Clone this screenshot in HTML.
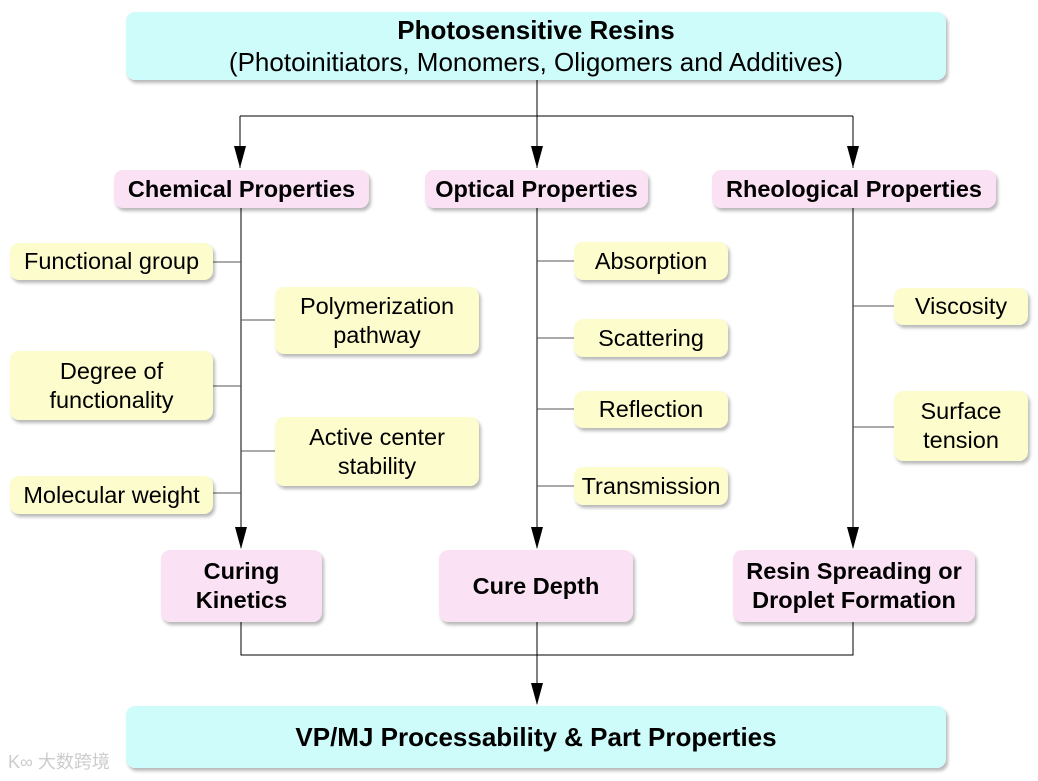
<!DOCTYPE html>
<html><head><style>
body{margin:0;width:1038px;height:781px;background:#fff;position:relative;overflow:hidden;font-family:"Liberation Sans",Arial,sans-serif;}
.b{position:absolute;box-sizing:border-box;display:flex;align-items:center;justify-content:center;text-align:center;border-radius:9px;box-shadow:2px 3px 3px rgba(0,0,0,0.28);color:#000;line-height:29px;white-space:nowrap;}
.c{background:#cdfcfa;}
.p{background:#fbe1f4;font-weight:bold;font-size:23.5px;}
.y{background:#fdfccd;font-size:23.5px;}
svg{position:absolute;left:0;top:0;}
</style></head><body>
<svg width="1038" height="781">
<g stroke="#000" stroke-width="1" fill="none">
<line x1="537" y1="80" x2="537" y2="116"/>
<line x1="240" y1="116" x2="853" y2="116"/>
<path d="M240,116 V168 M537,116 V168 M853,116 V168"/>
<path d="M241,208 V548 M537,208 V548 M853,208 V548"/>
<path d="M241,622 V655 H853 V622 M537,622 V704"/>
</g>
<g fill="#000">
<path d="M234,146 L246,146 L240,168 z"/><path d="M531,146 L543,146 L537,168 z"/><path d="M847,146 L859,146 L853,168 z"/>
<path d="M235,527 L247,527 L241,549 z"/><path d="M531,527 L543,527 L537,549 z"/><path d="M847,527 L859,527 L853,549 z"/>
<path d="M531,683 L543,683 L537,705 z"/>
</g>
<g stroke="#555" stroke-width="1">
<path d="M213,262 H241 M241,320 H275 M213,386 H241 M241,451 H275 M213,493 H241"/>
<path d="M537,261 H574 M537,338 H574 M537,409 H574 M537,486 H574"/>
<path d="M853,306 H894 M853,427 H894"/>
</g>
</svg>
<div class="b c" style="left:126px;top:12px;width:820px;height:68px;font-size:26px;line-height:32px;flex-direction:column"><b>Photosensitive Resins</b><span>(Photoinitiators, Monomers, Oligomers and Additives)</span></div>
<div class="b p" style="left:114px;top:170px;width:255px;height:38px">Chemical Properties</div>
<div class="b p" style="left:425px;top:170px;width:223px;height:38px">Optical Properties</div>
<div class="b p" style="left:712px;top:170px;width:284px;height:38px">Rheological Properties</div>
<div class="b y" style="left:10px;top:243px;width:203px;height:37px">Functional group</div>
<div class="b y" style="left:275px;top:287px;width:204px;height:67px">Polymerization<br>pathway</div>
<div class="b y" style="left:10px;top:351px;width:203px;height:69px">Degree of<br>functionality</div>
<div class="b y" style="left:275px;top:417px;width:204px;height:69px">Active center<br>stability</div>
<div class="b y" style="left:10px;top:476px;width:203px;height:38px">Molecular weight</div>
<div class="b y" style="left:574px;top:242px;width:154px;height:38px">Absorption</div>
<div class="b y" style="left:574px;top:319px;width:154px;height:38px">Scattering</div>
<div class="b y" style="left:574px;top:391px;width:154px;height:37px">Reflection</div>
<div class="b y" style="left:574px;top:467px;width:154px;height:38px">Transmission</div>
<div class="b y" style="left:894px;top:288px;width:134px;height:37px">Viscosity</div>
<div class="b y" style="left:894px;top:391px;width:134px;height:70px">Surface<br>tension</div>
<div class="b p" style="left:161px;top:550px;width:161px;height:72px">Curing<br>Kinetics</div>
<div class="b p" style="left:439px;top:550px;width:194px;height:72px">Cure Depth</div>
<div class="b p" style="left:733px;top:550px;width:242px;height:72px">Resin Spreading or<br>Droplet Formation</div>
<div class="b c" style="left:126px;top:706px;width:820px;height:62px;font-size:26px;font-weight:bold">VP/MJ Processability &amp; Part Properties</div>
<div style="position:absolute;left:8px;top:748px;font-size:18px;color:#ccc;font-family:'Liberation Sans','Noto Sans CJK SC',sans-serif">K∞ 大数跨境</div>
</body></html>
